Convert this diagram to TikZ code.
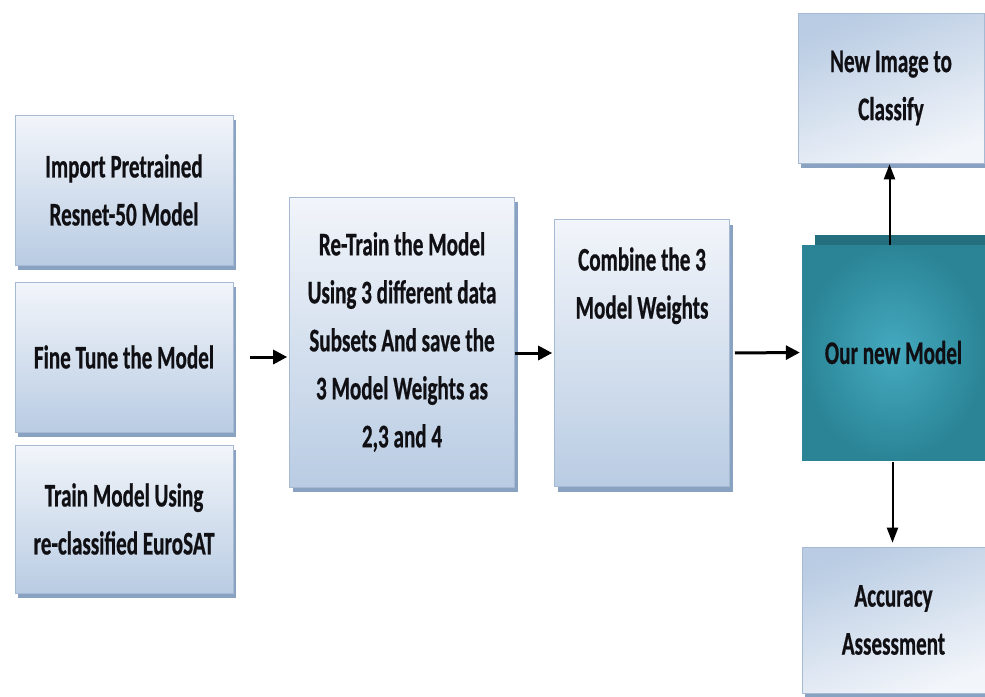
\documentclass[tikz,border=0pt]{standalone}
\usepackage{fontspec}
\newfontfamily\boxfont{Carlito Bold}[FakeStretch=0.64, FakeBold=0.6]
\usetikzlibrary{shadows,arrows.meta}
\definecolor{boxtop}{HTML}{F2F5FA}
\definecolor{boxbot}{HTML}{B9CCE3}
\definecolor{boxline}{HTML}{A7BAD4}
\definecolor{boxshadow}{HTML}{8AA2C2}
\definecolor{tealin}{HTML}{45AAC0}
\definecolor{tealout}{HTML}{2A8496}
\definecolor{tealback}{HTML}{246E7E}
\definecolor{txt}{HTML}{101014}
\begin{document}
\begin{tikzpicture}[x=1pt,y=-1pt,
  bluebox/.style={draw=boxline, line width=0.6pt, top color=boxtop, bottom color=boxbot,
    drop shadow={shadow xshift=3pt, shadow yshift=-5pt, fill=boxshadow, opacity=1},
    align=center, text=txt, inner sep=0pt,
    font=\boxfont\fontsize{33}{48}\selectfont},
  boxtext/.style={align=center, text=txt, inner sep=0pt,
    font=\boxfont\fontsize{33}{48}\selectfont},
  arr/.style={-{Triangle[length=14pt,width=14pt]}, line width=3pt, black},
  varr/.style={-{Triangle[length=15pt,width=11pt]}, line width=2pt, black}]
\useasboundingbox (0,0) rectangle (985,696);
% left column
\node[bluebox, minimum width=218pt, minimum height=150pt] (b1) at (124,190) {Import Pretrained\\Resnet-50 Model};
\node[bluebox, minimum width=218pt, minimum height=150pt] (b2) at (124,357) {Fine Tune the Model};
\node[bluebox, minimum width=218pt, minimum height=148pt] (b3) at (124,519) {Train Model Using\\re-classified  EuroSAT};
% retrain
\node[bluebox, minimum width=225pt, minimum height=290pt] (rt) at (402,342) {Re-Train  the Model\\Using 3 different data\\Subsets And save the\\3 Model Weights as\\2,3 and 4};
% combine
\node[bluebox, minimum width=175pt, minimum height=267pt] (cb) at (642,353) {};
\node[boxtext, anchor=north] (cbt) at ([yshift=-28pt]cb.north) {Combine the 3\\Model Weights};
% our new model
\fill[tealback] (815,235) rectangle (985,400);
\node[draw=none, inner color=tealin, outer color=tealout, minimum width=183pt, minimum height=215pt,
  boxtext] (nm) at (893.5,352.5) {Our new Model};
% right column
\node[bluebox, minimum width=186pt, minimum height=150pt, shading angle=200] (ni) at (891,88) {New Image  to\\Classify};
\node[bluebox, minimum width=183pt, minimum height=146pt, shading angle=200] (ac) at (893.5,620) {Accuracy\\Assessment};
% connectors
\draw[arr, shorten <=17pt, shorten >=2pt] (b2.east) -- (b2.east -| rt.west);
\draw[arr, shorten >=2pt] (rt.east |- cb.west) -- (cb.west);
\draw[arr, shorten <=5pt, shorten >=2pt] (cb.east) -- (nm.west);
\draw[varr, shorten >=1pt] ([xshift=-4pt]nm.north) -- ([xshift=-4pt]nm.north |- ni.south);
\draw[varr, shorten <=2pt, shorten >=4pt] ([xshift=-1pt]nm.south) -- ([xshift=-1pt]nm.south |- ac.north);
\end{tikzpicture}
\end{document}
